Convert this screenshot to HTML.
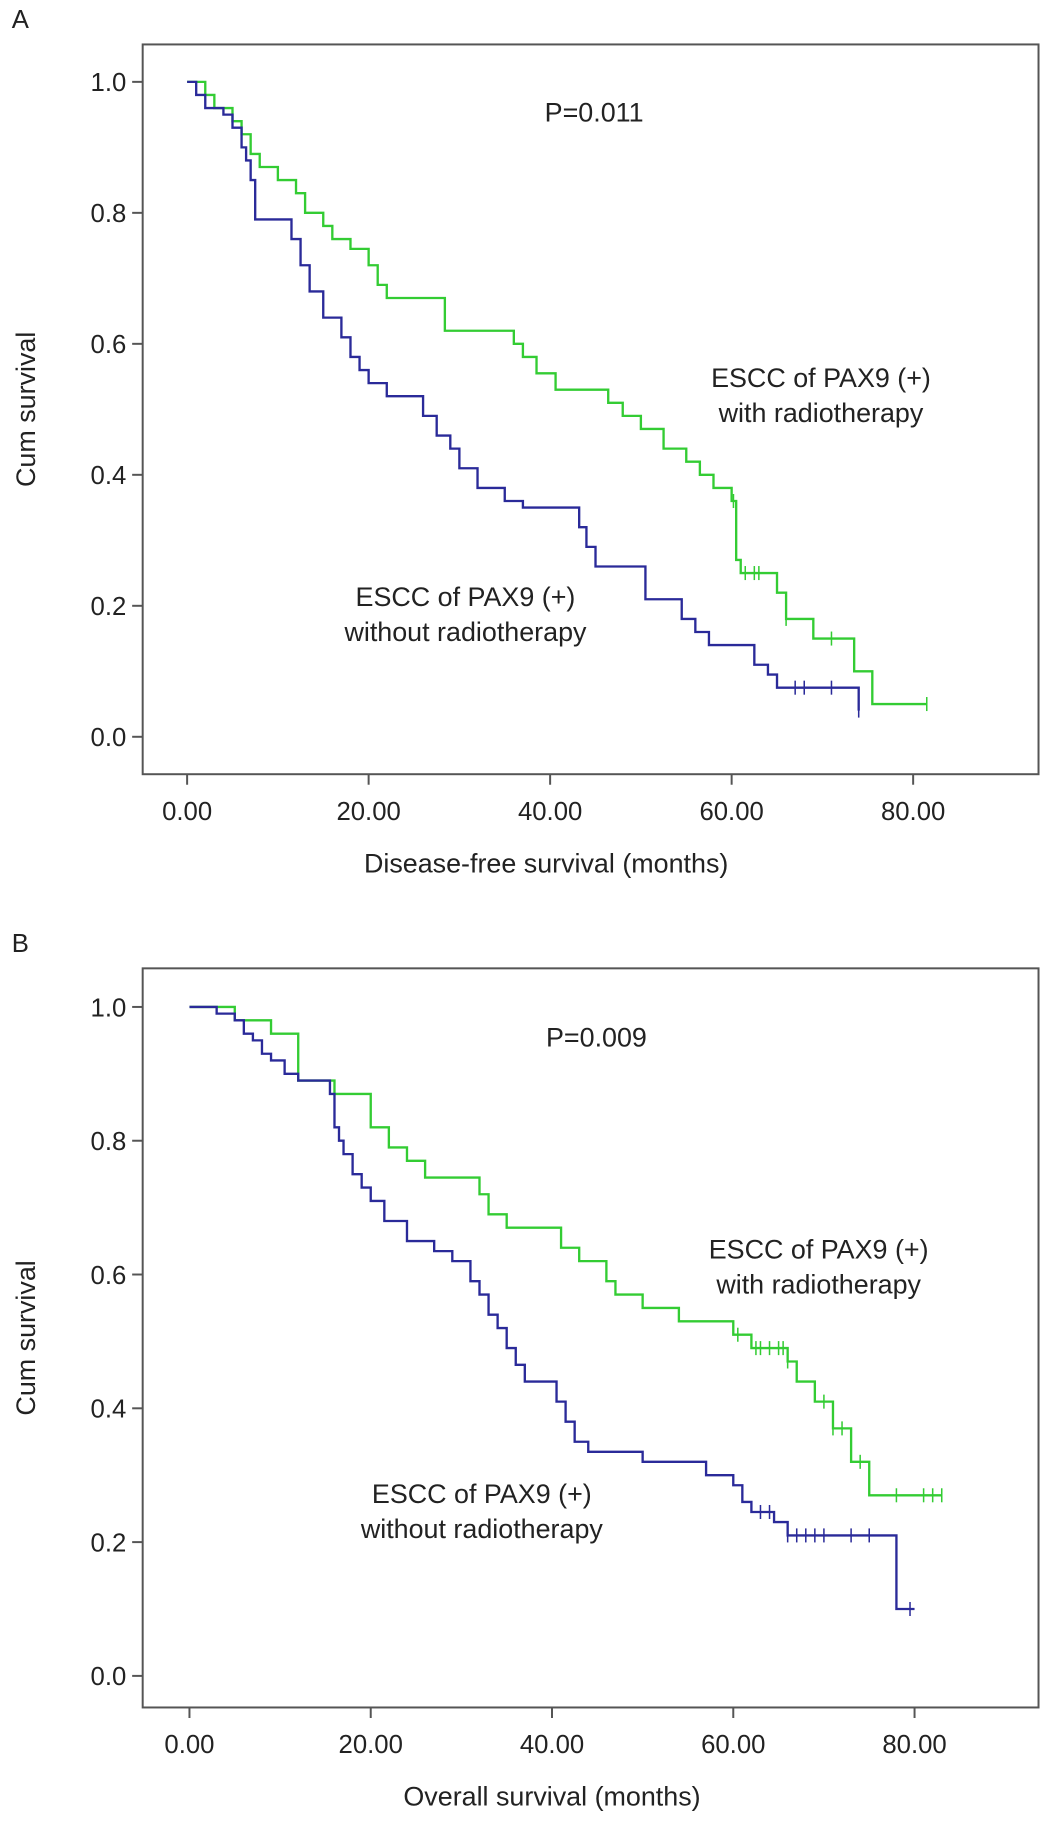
<!DOCTYPE html>
<html><head><meta charset="utf-8"><style>
body{margin:0;background:#fff;}
svg text{font-family:"Liberation Sans",sans-serif;fill:#222;}
</style></head><body>
<svg width="1056" height="1828" viewBox="0 0 1056 1828" xmlns="http://www.w3.org/2000/svg"><g id="fig" transform="scale(1.1695)"></g></svg>
<script>
// Panel A: disease-free survival
const aGreenT=[0,2,3,5,6,7,8,10,12,13,15,16,18,20,21,22,28.4,36,37,38.5,40.6,46.4,48,50,52.5,53.2,55,56.5,58,60,60.5,61,65,66,69,73.5,75.5];
const aGreenS=[1,0.98,0.96,0.94,0.92,0.89,0.87,0.85,0.83,0.8,0.78,0.76,0.745,0.72,0.69,0.67,0.62,0.6,0.58,0.555,0.53,0.51,0.49,0.47,0.44,0.44,0.42,0.4,0.38,0.36,0.27,0.25,0.22,0.18,0.15,0.1,0.05];
const aGreenEnd=81.5;
const aGreenCens=[60.2,61.5,62.5,63,66,71,81.5];
const aBlueT=[0,1,2,4,5,6,6.5,7,7.5,11.5,12.5,13.5,15,17,18,19,20,22,26,27.5,29,30,32,35,37,43.2,44,45,50.5,54.5,56,57.5,62.5,64,65,74];
const aBlueS=[1,0.98,0.96,0.95,0.93,0.9,0.88,0.85,0.79,0.76,0.72,0.68,0.64,0.61,0.58,0.56,0.54,0.52,0.49,0.46,0.44,0.41,0.38,0.36,0.35,0.32,0.29,0.26,0.21,0.18,0.16,0.14,0.11,0.095,0.075,0.04];
const aBlueEnd=74;
const aBlueCens=[67,68,71,74];
// Panel B: overall survival
const bGreenT=[0,5,9,12,16,20,22,24,26,32,33,35,41,43,46,47,50,54,60,62,66,67,69,71,73,75];
const bGreenS=[1,0.98,0.96,0.89,0.87,0.82,0.79,0.77,0.745,0.72,0.69,0.67,0.64,0.62,0.59,0.57,0.55,0.53,0.51,0.49,0.47,0.44,0.41,0.37,0.32,0.27];
const bGreenEnd=83;
const bGreenCens=[60.5,62.5,63,64,65,65.5,66,70,71,72,74,78,81,82,83];
const bBlueT=[0,3,5,6,7,8,9,10.5,12,15.5,16,16.5,17,18,19,20,21.5,24,27,29,31,32,33,34,35,36,37,40.5,41.5,42.5,44,50,57,60,61,62,64.5,66,78];
const bBlueS=[1,0.99,0.98,0.96,0.95,0.93,0.92,0.9,0.89,0.87,0.82,0.8,0.78,0.75,0.73,0.71,0.68,0.65,0.635,0.62,0.59,0.57,0.54,0.52,0.49,0.465,0.44,0.41,0.38,0.35,0.335,0.32,0.3,0.285,0.26,0.245,0.23,0.21,0.1];
const bBlueEnd=80;
const bBlueCens=[63,64,66,67,68,69,70,73,75,79.5];
const xTicks=[0,20,40,60,80];
const xTickLabels=["0.00","20.00","40.00","60.00","80.00"];
const yTicks=[0,0.2,0.4,0.6,0.8,1.0];
const yTickLabels=["0.0","0.2","0.4","0.6","0.8","1.0"];

const svg=document.getElementById('fig');
const NS='http://www.w3.org/2000/svg';
function mk(tag,attrs,parent){const e=document.createElementNS(NS,tag);for(const k in attrs)e.setAttribute(k,attrs[k]);parent.appendChild(e);return e;}

function panel(cfg){
  const g=mk('g',{},svg);
  
  
  const X=t=>cfg.x0+t*cfg.xs, Y=s=>cfg.y0-s*cfg.ys;
  const box=mk('rect',{x:122,y:cfg.top,width:766,height:cfg.bot-cfg.top,fill:'none',stroke:'#555','stroke-width':1.7},g);
  
  
  const lab=mk('text',{x:10,y:cfg.top-14,'font-size':22},g);lab.textContent=cfg.label;
  
  
  yTicks.forEach((v,i)=>{
    mk('line',{x1:113,x2:122,y1:Y(v),y2:Y(v),stroke:'#555','stroke-width':1.7},g);
    const t=mk('text',{x:108,y:Y(v)+8,'font-size':22,'text-anchor':'end'},g);t.textContent=yTickLabels[i];
    
    
  });
  xTicks.forEach((v,i)=>{
    mk('line',{x1:X(v),x2:X(v),y1:cfg.bot,y2:cfg.bot+9,stroke:'#555','stroke-width':1.7},g);
    const t=mk('text',{x:X(v),y:cfg.bot+39,'font-size':22,'text-anchor':'middle'},g);t.textContent=xTickLabels[i];
    
    
  });
  const yt=mk('text',{x:0,y:0,'font-size':23,'text-anchor':'middle',transform:`translate(30,${(cfg.top+cfg.bot)/2}) rotate(-90)`},g);yt.textContent='Cum survival';
  
  
  const xt=mk('text',{x:cfg.xtx,y:cfg.bot+84,'font-size':23,'text-anchor':'middle'},g);xt.textContent=cfg.xtitle;
  
  
  const p=mk('text',{x:cfg.px,y:cfg.py,'font-size':23,'text-anchor':'middle'},g);p.textContent=cfg.p;
  
  
  cfg.series.forEach(s=>{
    let d=`M${X(s.t[0])},${Y(s.s[0])}`;
    for(let i=1;i<s.t.length;i++){d+=` H${X(s.t[i])} V${Y(s.s[i])}`;}
    d+=` H${X(s.end)}`;
    const path=mk('path',{d:d,fill:'none',stroke:s.color,'stroke-width':2},g);
    
    
    s.cens.forEach(c=>{
      let k=0;for(let i=0;i<s.t.length;i++){if(s.t[i]<=c)k=i;}
      const m=mk('path',{d:`M${X(c)},${Y(s.s[k])-6} v12`,stroke:s.color,'stroke-width':1.3},g);
      
      
    });
    s.labels.forEach((l,i)=>{
      const t=mk('text',{x:s.lx,y:s.ly+i*30,'font-size':23,'text-anchor':'middle'},g);t.textContent=l;
      
      
    });
  });
}
panel({name:'panel-a',label:'A',top:38,bot:662,x0:160,xs:7.76,y0:630,ys:560,xtitle:'Disease-free survival (months)',xtx:467,px:508,py:104,p:'P=0.011',
  series:[
   {name:'with-radiotherapy-curve',t:aGreenT,s:aGreenS,end:aGreenEnd,cens:aGreenCens,color:'#33cc33',labels:['ESCC of PAX9 (+)','with radiotherapy'],lx:702,ly:331},
   {name:'without-radiotherapy-curve',t:aBlueT,s:aBlueS,end:aBlueEnd,cens:aBlueCens,color:'#2a2a99',labels:['ESCC of PAX9 (+)','without radiotherapy'],lx:398,ly:518}
  ]});
panel({name:'panel-b',label:'B',top:828,bot:1460,x0:162,xs:7.75,y0:1433,ys:572,xtitle:'Overall survival (months)',xtx:472,px:510,py:895,p:'P=0.009',
  series:[
   {name:'with-radiotherapy-curve',t:bGreenT,s:bGreenS,end:bGreenEnd,cens:bGreenCens,color:'#33cc33',labels:['ESCC of PAX9 (+)','with radiotherapy'],lx:700,ly:1076},
   {name:'without-radiotherapy-curve',t:bBlueT,s:bBlueS,end:bBlueEnd,cens:bBlueCens,color:'#2a2a99',labels:['ESCC of PAX9 (+)','without radiotherapy'],lx:412,ly:1285}
  ]});
</script>
</body></html>
